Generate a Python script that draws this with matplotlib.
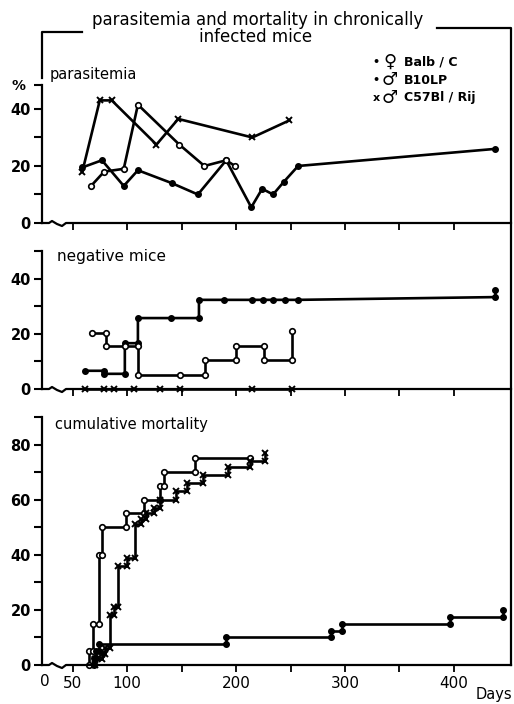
"""
Parasitemia, negative mice and cumulative mortality in chronically infected mice
(three stacked panels sharing a broken day axis).
"""

import matplotlib.pyplot as plt
from matplotlib.lines import Line2D
from matplotlib.transforms import blended_transform_factory

W, H = 514, 704

# parasitemia (%) per strain
para_balb_days = [67, 79, 97, 110, 148, 171, 191, 199]
para_balb_vals = [13, 18, 19, 41.5, 27.5, 20, 22, 20]
para_b10_days = [59, 77, 97, 110, 141, 165, 191, 214, 224, 234, 244, 257, 438]
para_b10_vals = [19.5, 22, 13, 18.5, 14, 10, 22, 5.5, 12, 10, 14.5, 20, 26]
para_c57_days = [59, 75, 86, 127, 147, 215, 249]
para_c57_vals = [18, 43, 43, 27.5, 36.5, 30, 36]

# negative mice (%) - vertices of the step lines
neg_balb_days = [68, 81, 81, 98, 110, 110, 149, 172, 172, 200, 200, 226, 226, 251, 251]
neg_balb_vals = [20.3, 20.3, 15.5, 15.5, 15.5, 5.2, 5.2, 5.2, 10.5, 10.5, 15.7, 15.7, 10.5, 10.5, 20.9]
neg_b10_days = [61, 79, 79, 98, 98, 110, 110, 140, 166, 166, 189, 215, 225, 234, 245, 257, 438, 438]
neg_b10_vals = [6.6, 6.6, 5.5, 5.5, 16.6, 16.6, 25.7, 25.7, 25.7, 32.3, 32.3, 32.3, 32.3, 32.3, 32.3,
                32.3, 33.3, 36]
neg_c57_days = [61, 79, 88, 106, 130, 149, 215, 251]
neg_c57_vals = [0, 0, 0, 0, 0, 0, 0, 0]

# cumulative mortality (%) - day of each step and level reached
mort_balb_days = [65, 69, 74, 77, 99, 116, 130, 134, 162]
mort_balb_vals = [5, 15, 40, 50, 55, 60, 65, 70, 75]
mort_balb_end = 213
mort_b10_days = [70, 72, 74, 191, 287, 297, 396, 445]
mort_b10_vals = [2.5, 5, 7.5, 10, 12.5, 15, 17.5, 20]
mort_c57_days = [71, 77, 80, 84, 88, 92, 100, 107, 113, 117, 125, 130, 145, 155, 170, 193, 213, 227]
mort_c57_vals = [2, 4, 6, 18, 21, 36, 39, 51, 53, 55, 57, 60, 63, 66, 69, 72, 74, 77]

x_ticks = [50, 100, 150, 200, 250, 300, 350, 400]
x_labels = ["50", "100", "", "200", "", "300", "", "400"]
X_MIN, X_MAX = 22, 452.3

FONT = "DejaVu Sans"
LW = 1.9


def px_rect(left, top, right, bottom):
    return [left / W, 1 - bottom / H, (right - left) / W, (bottom - top) / H]


def step_vertices(days, vals, end=None):
    xs, ys, prev = [], [], 0
    for d, v in zip(days, vals):
        xs += [d, d]
        ys += [prev, v]
        prev = v
    if end is not None:
        xs.append(end)
        ys.append(prev)
    return xs, ys


def style_axis(ax, ymax, yticks, ylabels, height_px, show_xlabels=False):
    ax.set_xlim(X_MIN, X_MAX)
    ax.set_ylim(0, ymax)
    for side in ("top", "right", "bottom"):
        ax.spines[side].set_visible(False)
    ax.spines["left"].set_linewidth(1.6)
    ax.set_yticks(yticks + [ymax])
    ax.set_yticklabels(ylabels + [""], fontsize=10.5, fontweight="bold", family=FONT)
    ax.tick_params(axis="y", direction="out", length=6, width=1.5, pad=2)
    ax.set_xticks(x_ticks)
    ax.set_xticklabels(x_labels if show_xlabels else [""] * len(x_ticks),
                       fontsize=11, family=FONT)
    ax.tick_params(axis="x", direction="out", length=5, width=1.3, pad=3)
    # broken x axis drawn by hand: small squiggle right of the origin
    scale = height_px / ymax
    sx = [42, 49, 52, 57, 62, 66, 511]
    sy = [0, 0, 2, -1, -3, 0, 0]
    days = [X_MIN + (p - 42) / 1.09 for p in sx]
    ax.plot(days, [v / scale for v in sy], color="black", lw=1.6,
            clip_on=False, solid_joinstyle="round")


fig = plt.figure(figsize=(W / 100, H / 100), dpi=100)

ax_top = fig.add_axes(px_rect(42, 85, 511, 223))
ax_mid = fig.add_axes(px_rect(42, 251, 511, 389))
ax_bot = fig.add_axes(px_rect(42, 417, 511, 665))

open_kw = dict(color="black", lw=LW, marker="o", ms=4, mfc="white", mew=1.2, clip_on=False)
fill_kw = dict(color="black", lw=LW, marker="o", ms=4, mfc="black", mew=1.0, clip_on=False)
x_kw = dict(color="black", lw=LW, marker="x", ms=4, mew=1.4, clip_on=False)

# parasitemia
ax_top.plot(para_b10_days, para_b10_vals, **fill_kw)
ax_top.plot(para_balb_days, para_balb_vals, **open_kw)
ax_top.plot(para_c57_days, para_c57_vals, **x_kw)
style_axis(ax_top, 48.4, [0, 10, 20, 30, 40], ["0", "", "20", "", "40"], 138)

# negative mice
ax_mid.plot(neg_b10_days, neg_b10_vals, **fill_kw)
ax_mid.plot(neg_balb_days, neg_balb_vals, **open_kw)
ax_mid.plot(neg_c57_days, neg_c57_vals, **x_kw)
style_axis(ax_mid, 50, [0, 10, 20, 30, 40], ["0", "", "20", "", "40"], 138)

# cumulative mortality
bx, by = step_vertices(mort_balb_days, mort_balb_vals, mort_balb_end)
ax_bot.plot(bx, by, **open_kw)
cx, cy = step_vertices(mort_c57_days, mort_c57_vals)
ax_bot.plot(cx, cy, **x_kw)
fx, fy = step_vertices(mort_b10_days, mort_b10_vals)
ax_bot.plot(fx, fy, **fill_kw)
style_axis(ax_bot, 90, [0, 10, 20, 30, 40, 50, 60, 70, 80],
           ["0", "", "20", "", "40", "", "60", "", "80"], 248, show_xlabels=True)
trans = blended_transform_factory(ax_bot.transData, ax_bot.transAxes)
ax_bot.text(X_MIN + 3, -0.035, "0", transform=trans, ha="center", va="top",
            fontsize=11, family=FONT)


def ftext(x, y, s, **kw):
    kw.setdefault("family", FONT)
    fig.text(x / W, 1 - y / H, s, **kw)


# frame around the whole figure
frame_kw = dict(color="black", lw=1.6, transform=fig.transFigure)
for xs, ys in [([42, 42, 82], [78, 32, 32]),
               ([437, 511, 511], [28, 28, 665])]:
    fig.add_artist(Line2D([x / W for x in xs], [1 - y / H for y in ys], **frame_kw))

ftext(258, 20, "parasitemia and mortality in chronically", ha="center", va="center", fontsize=12)
ftext(256, 37, "infected mice", ha="center", va="center", fontsize=12)

ftext(50, 74, "parasitemia", ha="left", va="center", fontsize=10.5)
ftext(18, 86, "%", ha="center", va="center", fontsize=10, fontweight="bold")
ftext(57, 257, "negative mice", ha="left", va="center", fontsize=11)
ftext(55, 425, "cumulative mortality", ha="left", va="center", fontsize=10.5)
ftext(494, 694, "Days", ha="center", va="center", fontsize=10.5)

# legend
legend_rows = [("•", "\u2640", "Balb / C"), ("•", "\u2642", "B10LP"), ("x", "\u2642", "C57Bl / Rij")]
for i, (mk, sym, name) in enumerate(legend_rows):
    y = 62 + 18 * i
    ftext(376, y, mk, ha="center", va="center", fontsize=8, fontweight="bold")
    ftext(390, y, sym, ha="center", va="center", fontsize=13, fontweight="bold")
    ftext(404, y, name, ha="left", va="center", fontsize=9, fontweight="bold")

fig.savefig("out.png", dpi=100)
